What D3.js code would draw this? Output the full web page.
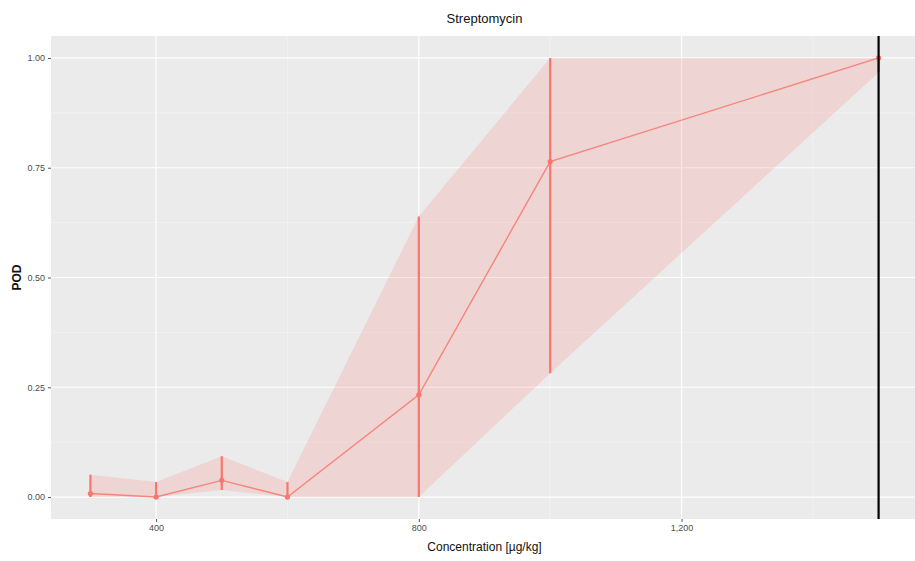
<!DOCTYPE html>
<html>
<head>
<meta charset="utf-8">
<script src="https://cdn.jsdelivr.net/npm/d3@7"></script>
<style>
  html, body { margin: 0; padding: 0; background: #fff; }
  svg { display: block; font-family: "Liberation Sans", Arial, sans-serif; }
</style>
</head>
<body>
<svg id="chart" width="915" height="561"></svg>
<script>
// Probability of detection per spiked concentration
const concentrations = [300, 400, 500, 600, 800, 1000, 1500];
const pod           = [0.008, 0, 0.038, 0, 0.233, 0.764, 1.0];
const podLower      = [0, 0, 0.016, 0, 0, 0.282, 0.967];
const podUpper      = [0.051, 0.034, 0.093, 0.034, 0.639, 1.0, 1.0];
const xTicks = [400, 800, 1200];
const yTicks = [0, 0.25, 0.5, 0.75, 1.0];
const xMinor = [600, 1000, 1400];
const yMinor = [0.125, 0.375, 0.625, 0.875];
const referenceLine = 1500;
const title = "Streptomycin";
const xTitle = "Concentration [\u00b5g/kg]";
const yTitle = "POD";

const rows = concentrations.map((c, i) => ({ c, p: pod[i], lo: podLower[i], hi: podUpper[i] }));

const W = 915, H = 561;
const margin = { top: 36, right: 0, bottom: 42, left: 51 };
const svg = d3.select("#chart");

const x = d3.scaleLinear().domain([240, 1560]).range([margin.left, W - margin.right + 3]);
const y = d3.scaleLinear().domain([-0.05, 1.05]).range([H - margin.bottom, margin.top]);

const [x0, x1] = x.range();
const [y0, y1] = y.range();

const clip = svg.append("defs").append("clipPath").attr("id", "panel")
  .append("rect").attr("x", x0).attr("y", y1).attr("width", x1 - x0).attr("height", y0 - y1);

const panel = svg.append("g").attr("clip-path", "url(#panel)");
panel.append("rect").attr("x", x0).attr("y", y1).attr("width", x1 - x0).attr("height", y0 - y1)
  .attr("fill", "#ebebeb");

// grid
panel.selectAll(".xminor").data(xMinor).join("line")
  .attr("x1", d => x(d)).attr("x2", d => x(d)).attr("y1", y1).attr("y2", y0)
  .attr("stroke", "#f5f5f5").attr("stroke-width", 0.6);
panel.selectAll(".yminor").data(yMinor).join("line")
  .attr("y1", d => y(d)).attr("y2", d => y(d)).attr("x1", x0).attr("x2", x1)
  .attr("stroke", "#f5f5f5").attr("stroke-width", 0.6);
panel.selectAll(".xmajor").data(xTicks).join("line")
  .attr("x1", d => x(d)).attr("x2", d => x(d)).attr("y1", y1).attr("y2", y0)
  .attr("stroke", "#fff").attr("stroke-width", 1.2);
panel.selectAll(".ymajor").data(yTicks).join("line")
  .attr("y1", d => y(d)).attr("y2", d => y(d)).attr("x1", x0).attr("x2", x1)
  .attr("stroke", "#fff").attr("stroke-width", 1.2);

// confidence ribbon
panel.append("path").datum(rows)
  .attr("d", d3.area().x(d => x(d.c)).y0(d => y(d.lo)).y1(d => y(d.hi)))
  .attr("fill", "#F8766D").attr("fill-opacity", 0.2);

// estimate line
panel.append("path").datum(rows)
  .attr("d", d3.line().x(d => x(d.c)).y(d => y(d.p)))
  .attr("fill", "none").attr("stroke", "#F8766D").attr("stroke-width", 1.4).attr("opacity", 0.85);

// interval bars
panel.selectAll(".bar").data(rows).join("line")
  .attr("x1", d => x(d.c)).attr("x2", d => x(d.c))
  .attr("y1", d => y(d.lo)).attr("y2", d => y(d.hi))
  .attr("stroke", "#F8766D").attr("stroke-width", 2.2);

// points
panel.selectAll(".pt").data(rows).join("circle")
  .attr("cx", d => x(d.c)).attr("cy", d => y(d.p)).attr("r", 2.6)
  .attr("fill", "#F8766D");

// reference line
panel.append("line")
  .attr("x1", x(referenceLine)).attr("x2", x(referenceLine)).attr("y1", y1).attr("y2", y0)
  .attr("stroke", "#000").attr("stroke-width", 2.2);

// axes
const fmt = d3.format(",");
const xAxis = svg.append("g").attr("transform", `translate(0,${y0})`)
  .call(d3.axisBottom(x).tickValues(xTicks).tickFormat(fmt).tickSize(3).tickPadding(3));
const yAxis = svg.append("g").attr("transform", `translate(${x0},0)`)
  .call(d3.axisLeft(y).tickValues(yTicks).tickFormat(d3.format(".2f")).tickSize(3).tickPadding(3));
[xAxis, yAxis].forEach(a => {
  a.select(".domain").remove();
  a.selectAll(".tick line").attr("stroke", "#555").attr("stroke-width", 1);
  a.selectAll(".tick text").attr("fill", "#4d4d4d").style("font-size", "9px")
    .style("font-family", "'Liberation Sans', Arial, sans-serif");
});

// titles
svg.append("text").attr("x", (x0 + x1) / 2).attr("y", 23)
  .attr("text-anchor", "middle").attr("fill", "#111").style("font-size", "13px").text(title);
svg.append("text").attr("x", (x0 + x1) / 2).attr("y", 551)
  .attr("text-anchor", "middle").attr("fill", "#111").style("font-size", "12px").text(xTitle);
svg.append("text").attr("transform", `translate(21,${(y0 + y1) / 2}) rotate(-90)`)
  .attr("text-anchor", "middle").attr("fill", "#111").style("font-size", "12px")
  .style("font-weight", "bold").text(yTitle);
</script>
</body>
</html>
